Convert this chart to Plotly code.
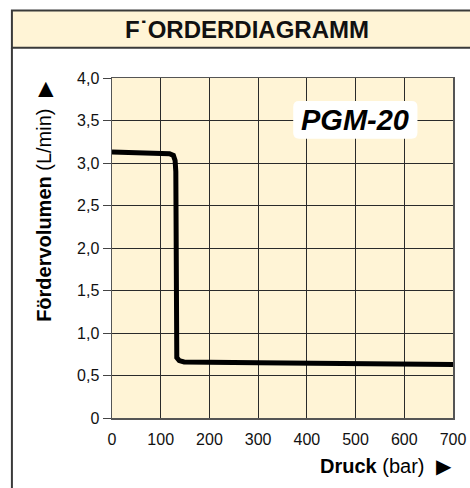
import plotly.graph_objects as go

# ---- data ----
pressure_bar = [0, 100, 118, 126, 129.5, 131, 131.5, 133, 138, 148, 300, 500, 700]
flow_lpm = [3.13, 3.12, 3.11, 3.09, 3.03, 2.9, 0.78, 0.71, 0.675, 0.66, 0.65, 0.64, 0.63]

x_tickvals = [0, 100, 200, 300, 400, 500, 600, 700]
x_ticktext = ["0", "100", "200", "300", "400", "500", "600", "700"]
y_tickvals = [0, 0.5, 1.0, 1.5, 2.0, 2.5, 3.0, 3.5, 4.0]
y_ticktext = ["0", "0,5", "1,0", "1,5", "2,0", "2,5", "3,0", "3,5", "4,0"]

title_text = "F˙ORDERDIAGRAMM"
model_label = "PGM-20"
x_title = "<b>Druck</b> (bar)  ▶"
y_title = "<b>Fördervolumen</b> (L/min)  ▶"

# ---- layout geometry (body margin removed below, so screen px == figure px) ----
W, H = 470, 488
L, T = 112, 78.3
R = W - 452.7
B = H - 417.7
PW, PH = W - L - R, H - T - B

def px(xp):  # screen pixel -> paper x
    return (xp - L) / PW

def py(yp):  # screen pixel -> paper y
    return (H - B - yp) / PH

FONT = "Liberation Sans, Arial, Helvetica, sans-serif"
CREAM = "#FFF4D6"
FRAME = "#3a3a3a"

fig = go.Figure()
fig.add_trace(go.Scatter(
    x=pressure_bar, y=flow_lpm, mode="lines",
    line=dict(color="black", width=5, shape="linear"),
    hoverinfo="skip", showlegend=False,
))

# rounded white box behind the model label (data coords)
bx0, bx1, by0, by1 = 372, 627, 3.285, 3.73
rx, ry = 12, 0.07
path = (f"M {bx0+rx},{by0} L {bx1-rx},{by0} Q {bx1},{by0} {bx1},{by0+ry} "
        f"L {bx1},{by1-ry} Q {bx1},{by1} {bx1-rx},{by1} "
        f"L {bx0+rx},{by1} Q {bx0},{by1} {bx0},{by1-ry} "
        f"L {bx0},{by0+ry} Q {bx0},{by0} {bx0+rx},{by0} Z")

shapes = [
    dict(type="rect", xref="paper", yref="paper",
         x0=px(12), x1=px(490), y0=py(48), y1=py(11),
         fillcolor=CREAM, line=dict(color=FRAME, width=2), layer="below"),
    dict(type="line", xref="paper", yref="paper",
         x0=px(12), x1=px(12), y0=py(48), y1=py(510),
         line=dict(color=FRAME, width=2)),
    dict(type="path", xref="x", yref="y", path=path,
         fillcolor="white", line=dict(width=0), layer="above"),
]

annotations = [
    dict(text=f"<b>{title_text}</b>", xref="paper", yref="paper",
         x=px(246.5), y=py(30), xanchor="center", yanchor="middle",
         showarrow=False, font=dict(family=FONT, size=24, color="#111")),
    dict(text=f"<b><i>{model_label}</i></b>", xref="x", yref="y",
         x=(bx0 + bx1) / 2, y=(by0 + by1) / 2, xanchor="center", yanchor="middle",
         showarrow=False, font=dict(family=FONT, size=29, color="black")),
    dict(text=y_title, xref="paper", yref="paper", textangle=-90,
         x=px(44), y=py(202), xanchor="center", yanchor="middle",
         showarrow=False, font=dict(family=FONT, size=20, color="black")),
    dict(text=x_title, xref="paper", yref="paper",
         x=px(454), y=py(466), xanchor="right", yanchor="middle",
         showarrow=False, font=dict(family=FONT, size=20, color="black")),
]

fig.update_layout(
    width=W, height=H,
    margin=dict(l=L, r=R, t=T, b=B, autoexpand=False),
    paper_bgcolor="white", plot_bgcolor=CREAM,
    font=dict(family=FONT, size=16, color="#111"),
    shapes=shapes, annotations=annotations, showlegend=False,
)
fig.update_xaxes(
    range=[0, 700], tickvals=x_tickvals, ticktext=x_ticktext,
    tickfont=dict(size=16),
    showgrid=True, gridcolor="#2a2a2a", gridwidth=1,
    showline=True, linecolor="#555", linewidth=1.5, mirror=True,
    ticks="", ticklabelstandoff=6, zeroline=False, fixedrange=True,
)
fig.update_yaxes(
    range=[0, 4.0], tickvals=y_tickvals, ticktext=y_ticktext,
    tickfont=dict(size=16),
    showgrid=True, gridcolor="#2a2a2a", gridwidth=1,
    showline=True, linecolor="#555", linewidth=1.5, mirror=True,
    ticks="outside", ticklen=8, tickcolor="#444", zeroline=False, fixedrange=True,
)

fig.write_html(
    "out.html",
    config={"displayModeBar": False, "staticPlot": True},
    post_script="document.body.style.margin='0px';document.body.style.overflow='hidden';",
)
